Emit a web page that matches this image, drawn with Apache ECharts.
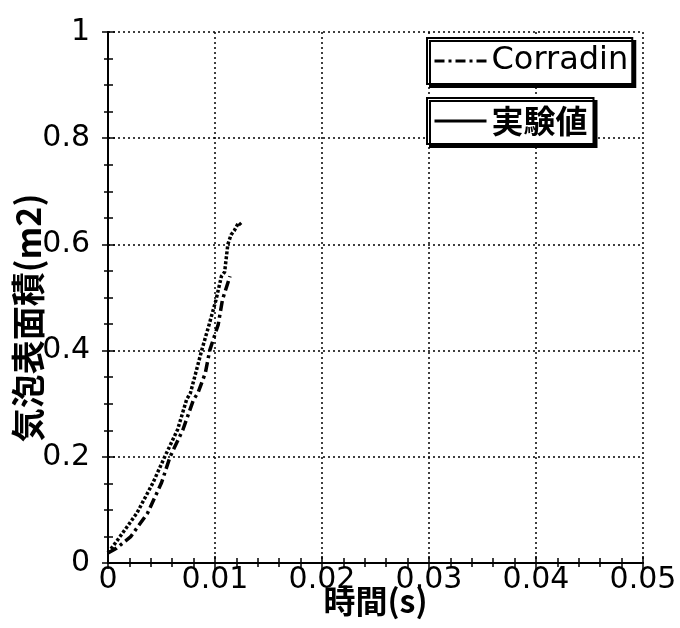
<!DOCTYPE html>
<html>
<head>
<meta charset="utf-8">
<script src="https://cdn.jsdelivr.net/npm/echarts@6/dist/echarts.min.js"></script>
<style>
html,body{margin:0;padding:0;background:#fff;}
#chart{width:680px;height:628px;}
</style>
</head>
<body>
<div id="chart"></div>
<script>
// ---- data ----
const expName = '実験値';
const corName = 'Corradini';
const expTime = [0, 0.0011, 0.0027, 0.0042, 0.0053, 0.0065, 0.00735, 0.0077, 0.0082, 0.00875, 0.00945, 0.0101, 0.0106, 0.0109, 0.0112, 0.0115, 0.0118, 0.0122, 0.0125];
const expArea = [0.019, 0.049, 0.094, 0.151, 0.2, 0.251, 0.308, 0.32, 0.358, 0.4, 0.449, 0.496, 0.54, 0.548, 0.6, 0.618, 0.626, 0.641, 0.635];
const corTime = [0, 0.0008, 0.0021, 0.0037, 0.0050, 0.0058, 0.0070, 0.0080, 0.0084, 0.0091, 0.0095, 0.0103, 0.0107, 0.0114];
const corArea = [0.019, 0.028, 0.049, 0.094, 0.151, 0.2, 0.251, 0.308, 0.32, 0.358, 0.4, 0.449, 0.496, 0.54];
const xTicks = [0, 0.01, 0.02, 0.03, 0.04, 0.05];
const yTicks = [0, 0.2, 0.4, 0.6, 0.8, 1];
const xTitle = '時間(s)';
const yTitle = '気泡表面積(m2)';

const font = 'DejaVu Sans, sans-serif';
const cjkFont = '"Noto Sans CJK JP", sans-serif';
const pairs = (xs, ys) => xs.map((x, i) => [x, ys[i]]);

const chart = echarts.init(document.getElementById('chart'), null, {renderer: 'canvas'});
const xMin = xTicks[0], xMax = xTicks[xTicks.length - 1], xInt = xTicks[1] - xTicks[0];
const yMin = yTicks[0], yMax = yTicks[yTicks.length - 1], yInt = yTicks[1] - yTicks[0];

const fmtX = v => (Math.round(v * 1000) / 1000).toString();
const fmtY = v => (Math.round(v * 10) / 10).toString();

chart.setOption({
  animation: false,
  backgroundColor: '#fff',
  grid: {left: 108, right: 37, top: 32, bottom: 65, containLabel: false, outerBoundsMode: 'none'},
  legend: [
    {
      data: [corName], left: 427, top: 38, orient: 'horizontal',
      itemWidth: 52, itemHeight: 14, itemGap: 0,
      padding: [7, 4, 7, 6],
      borderColor: '#000', borderWidth: 2, backgroundColor: '#fff',
      shadowColor: '#000', shadowBlur: 0, shadowOffsetX: 3, shadowOffsetY: 3,
      textStyle: {fontFamily: font, fontSize: 32, color: '#000', width: 140, overflow: 'truncate', ellipsis: ''},
      itemStyle: {opacity: 0},
      lineStyle: {width: 3, type: [10, 4, 3, 4], opacity: 1}
    },
    {
      data: [expName], left: 427, top: 98, orient: 'horizontal',
      itemWidth: 52, itemHeight: 14, itemGap: 0,
      padding: [7, 6, 7, 6],
      borderColor: '#000', borderWidth: 2, backgroundColor: '#fff',
      shadowColor: '#000', shadowBlur: 0, shadowOffsetX: 3, shadowOffsetY: 3,
      textStyle: {fontFamily: cjkFont, fontSize: 32, fontWeight: 'bold', color: '#000'},
      itemStyle: {opacity: 0},
      lineStyle: {width: 3, type: 'solid', opacity: 1}
    }
  ],
  xAxis: [
    {
      type: 'value', min: xMin, max: xMax, interval: xInt, position: 'bottom',
      name: xTitle, nameLocation: 'middle', nameGap: 22, nameMoveOverlap: false,
      nameTextStyle: {fontFamily: cjkFont, fontSize: 32, fontWeight: 'bold', color: '#000'},
      axisLine: {show: true, lineStyle: {color: '#000', width: 2}},
      axisTick: {show: true, inside: true, length: 7, lineStyle: {color: '#000', width: 1.5}},
      minorTick: {show: true, splitNumber: 5, length: 5, lineStyle: {color: '#000', width: 1.5}},
      axisLabel: {fontFamily: font, fontSize: 30, color: '#000', margin: 2, formatter: fmtX},
      splitLine: {show: true, lineStyle: {color: '#000', width: 1.5, type: [2, 3]}}
    },
    {
      type: 'value', min: xMin, max: xMax, interval: xInt, position: 'top',
      axisLine: {show: true, lineStyle: {color: '#000', width: 2}},
      axisTick: {show: true, inside: true, length: 6, lineStyle: {color: '#000', width: 1.5}},
      minorTick: {show: true, splitNumber: 5, length: 4, lineStyle: {color: '#000', width: 1.5}},
      axisLabel: {show: false}, splitLine: {show: false}
    }
  ],
  yAxis: [
    {
      type: 'value', min: yMin, max: yMax, interval: yInt, position: 'left',
      name: yTitle, nameLocation: 'middle', nameGap: 63, nameRotate: 90, nameMoveOverlap: false,
      nameTextStyle: {fontFamily: cjkFont, fontSize: 34, fontWeight: 'bold', color: '#000', padding: [0, 41, 0, 0]},
      axisLine: {show: true, lineStyle: {color: '#000', width: 2}},
      axisTick: {show: true, inside: true, length: 7, lineStyle: {color: '#000', width: 1.5}},
      minorTick: {show: true, splitNumber: 4, length: 5, lineStyle: {color: '#000', width: 1.5}},
      axisLabel: {fontFamily: font, fontSize: 30, color: '#000', margin: 18, formatter: fmtY},
      splitLine: {show: true, lineStyle: {color: '#000', width: 1.5, type: [2, 3]}}
    },
    {
      type: 'value', min: yMin, max: yMax, interval: yInt, position: 'right',
      axisLine: {show: true, lineStyle: {color: '#000', width: 2}},
      axisTick: {show: true, inside: true, length: 6, lineStyle: {color: '#000', width: 1.5}},
      minorTick: {show: true, splitNumber: 4, length: 4, lineStyle: {color: '#000', width: 1.5}},
      axisLabel: {show: false}, splitLine: {show: false}
    }
  ],
  series: [
    {
      name: corName, type: 'line', xAxisIndex: 0, yAxisIndex: 0,
      data: pairs(corTime, corArea), symbol: 'none', smooth: false,
      lineStyle: {color: '#000', width: 3.5, type: [10, 4, 3, 4]},
      itemStyle: {color: '#000'}
    },
    {
      name: expName, type: 'line', xAxisIndex: 0, yAxisIndex: 0,
      data: pairs(expTime, expArea), symbol: 'none', smooth: false,
      lineStyle: {color: '#000', width: 3.5, type: [3, 2]},
      itemStyle: {color: '#000'}
    }
  ]
});
</script>
</body>
</html>
